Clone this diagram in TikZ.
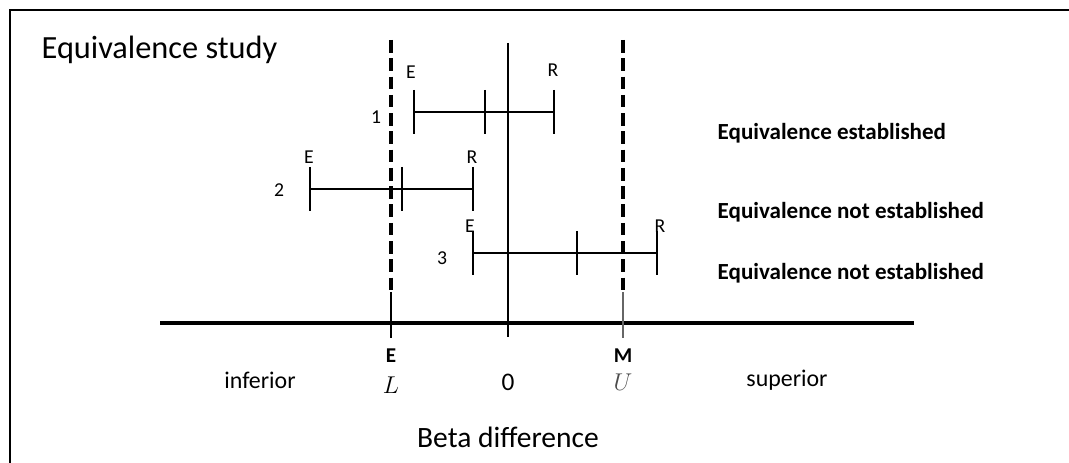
\documentclass[tikz,border=0pt]{standalone}
\usepackage{fontspec}
\setmainfont{Carlito}
\usepackage{tikz}
\usetikzlibrary{positioning, calc}

\begin{document}
\begin{tikzpicture}[every node/.style={font=\fontsize{14}{17}\selectfont, inner sep=1pt},
		bound/.style={line width=2.6pt, dash pattern=on 9pt off 4pt},
		whisker/.style={line width=1.4pt},
		endtick/.style={line width=1.8pt},
		verdict/.style={font=\fontsize{16.4}{19}\selectfont\bfseries, anchor=west},
		axlabel/.style={font=\fontsize{15}{18}\selectfont\bfseries}]
	\useasboundingbox (0,0) rectangle (26.725,11.575);
	% frame
	\draw[line width=1.3pt] (0.25,0) -- (0.25,11.325) -- (26.725,11.325);
	\node[font=\fontsize{23}{27}\selectfont, anchor=west] (title) at (1.0,10.325) {Equivalence study};

	% axis and reference lines
	\coordinate (axl) at (4.0,3.5);
	\coordinate (axr) at (22.85,3.5);
	\draw[line width=2.6pt] (axl) -- (axr);
	\coordinate (ztop) at (12.7,10.5);
	\coordinate (zbot) at (12.7,3.15);
	\draw[line width=1.9pt] (ztop) -- (zbot);
	\coordinate (ltop) at (9.775,10.575);
	\coordinate (lmid) at (9.775,4.275);
	\coordinate (lbot) at (9.775,3.125);
	\draw[bound] (ltop) -- (lmid);
	\draw[line width=1.2pt] (lmid) -- (lbot);
	\coordinate (utop) at (15.575,10.575);
	\coordinate (umid) at (15.575,4.275);
	\coordinate (ubot) at (15.575,3.125);
	\draw[bound] (utop) -- (umid);
	\draw[line width=1.2pt, black!60] (umid) -- (ubot);

	% interval 1
	\coordinate (e1) at (10.35,8.775);
	\coordinate (m1) at (12.125,8.775);
	\coordinate (r1) at (13.85,8.775);
	\draw[whisker] (e1) -- (r1);
	\draw[endtick] ($(e1)+(0,0.55)$) -- ($(e1)-(0,0.55)$);
	\draw[whisker] ($(m1)+(0,0.55)$) -- ($(m1)-(0,0.55)$);
	\draw[whisker] ($(r1)+(0,0.55)$) -- ($(r1)-(0,0.55)$);
	\node (e1lab) at (10.275,9.775) {E};
	\node (r1lab) at (13.825,9.825) {R};
	\node (n1) at (9.4,8.65) {1};

	% interval 2
	\coordinate (e2) at (7.75,6.85);
	\coordinate (m2) at (10.05,6.85);
	\coordinate (r2) at (11.825,6.85);
	\draw[whisker] (e2) -- (r2);
	\draw[endtick] ($(e2)+(0,0.55)$) -- ($(e2)-(0,0.55)$);
	\draw[whisker] ($(m2)+(0,0.55)$) -- ($(m2)-(0,0.55)$);
	\draw[endtick] ($(r2)+(0,0.55)$) -- ($(r2)-(0,0.55)$);
	\node (e2lab) at (7.725,7.65) {E};
	\node (r2lab) at (11.8,7.65) {R};
	\node (n2) at (6.975,6.825) {2};

	% interval 3
	\coordinate (e3) at (11.825,5.25);
	\coordinate (m3) at (14.425,5.25);
	\coordinate (r3) at (16.425,5.25);
	\draw[whisker] (e3) -- (r3);
	\draw[endtick] ($(e3)+(0,0.55)$) -- ($(e3)-(0,0.55)$);
	\draw[whisker] ($(m3)+(0,0.55)$) -- ($(m3)-(0,0.55)$);
	\draw[whisker] ($(r3)+(0,0.55)$) -- ($(r3)-(0,0.55)$);
	\node (e3lab) at (11.75,5.925) {E};
	\node (r3lab) at (16.5,5.925) {R};
	\node (n3) at (11.05,5.125) {3};

	% verdicts
	\node[verdict] (v1) at (17.9,8.25) {Equivalence established};
	\node[verdict] (v2) at (17.9,6.275) {Equivalence not established};
	\node[verdict] (v3) at (17.9,4.75) {Equivalence not established};

	% axis labels
	\node[axlabel] (elab) at (9.775,2.675) {E};
	\node[axlabel] (mlab) at (15.575,2.675) {M};
	\node[font=\fontsize{16}{19}\selectfont] (llab) at (9.775,1.95) {$L$};
	\node[font=\fontsize{18}{21}\selectfont] (zlab) at (12.7,2.025) {0};
	\node[font=\fontsize{16}{19}\selectfont, text=black!70] (ulab) at (15.575,2.025) {$U$};
	\node[font=\fontsize{17}{20}\selectfont] (inf) at (6.5,2.075) {inferior};
	\node[font=\fontsize{17}{20}\selectfont] (sup) at (19.675,2.075) {superior};
	\node[font=\fontsize{21}{25}\selectfont] (xlab) at (12.7,0.65) {Beta difference};
\end{tikzpicture}
\end{document}
